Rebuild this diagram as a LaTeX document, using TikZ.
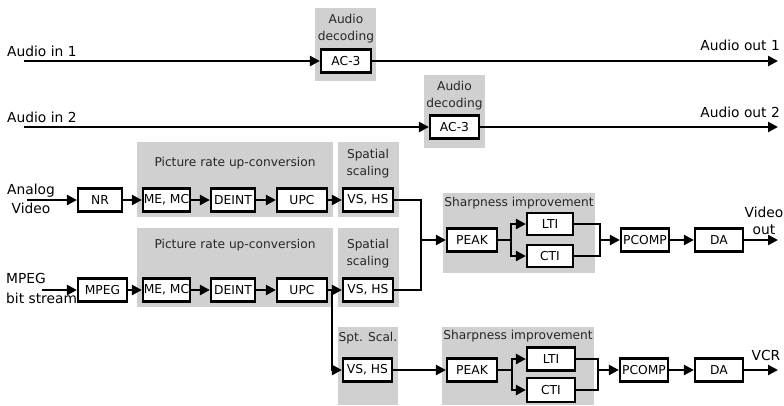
\documentclass[tikz,border=0pt]{standalone}
\usepackage{fontspec}
\setmainfont{DejaVu Sans}
\usetikzlibrary{arrows.meta}
\definecolor{panel}{RGB}{208,208,208}
\tikzset{
 blk/.style={draw=black, line width=2.2pt, fill=white, inner sep=0pt, minimum height=23pt, font=\fontsize{12.3}{14}\selectfont},
 wire/.style={line width=2.4pt},
 arr/.style={wire, -{Triangle[length=10pt,width=10pt]}},
 grp/.style={fill=panel},
 glab/.style={font=\fontsize{12.2}{17}\selectfont, inner sep=0pt, align=center, text=black!85},
 mlab/.style={font=\fontsize{13.8}{19}\selectfont, inner sep=0pt},
}
\begin{document}
\begin{tikzpicture}[x=1pt,y=-1pt]
\useasboundingbox (0,0) rectangle (784,405);
% ---------- gray panels ----------
\fill[grp] (315,8) rectangle (376,81);
\fill[grp] (424,75) rectangle (485,148);
\fill[grp] (137,142) rectangle (333,217);
\fill[grp] (338,142) rectangle (399,217);
\fill[grp] (137,228) rectangle (333,307);
\fill[grp] (338,228) rectangle (399,307);
\fill[grp] (443,193) rectangle (595,273);
\fill[grp] (338,327) rectangle (398,405);
\fill[grp] (442,327) rectangle (594,405);
% ---------- audio ----------
\node[glab] (ad1lab) at (346,28.5) {Audio\\decoding};
\node[blk, minimum width=50pt] (ac1) at (346,61) {AC-3};
\node[mlab, anchor=west] (ain1) at (7,51) {Audio in 1};
\node[mlab, anchor=east] (aout1) at (780,45) {Audio out 1};
\coordinate (ain1s) at (24,61);
\coordinate (aout1e) at (778,61);
\draw[arr] (ain1s) -- (ac1);
\draw[arr] (ac1) -- (aout1e);

\node[glab] (ad2lab) at (454.5,95.5) {Audio\\decoding};
\node[blk, minimum width=49pt] (ac2) at (454.5,127) {AC-3};
\node[mlab, anchor=west] (ain2) at (7,117) {Audio in 2};
\node[mlab, anchor=east] (aout2) at (780,112) {Audio out 2};
\coordinate (ain2s) at (24,127);
\coordinate (aout2e) at (778,127);
\draw[arr] (ain2s) -- (ac2);
\draw[arr] (ac2) -- (aout2e);
% ---------- video row 1 ----------
\node[glab] (pru1) at (235,163) {Picture rate up-conversion};
\node[glab] (ss1) at (368,163.5) {Spatial\\scaling};
\node[blk, minimum width=44pt] (nr) at (100,200) {NR};
\node[blk, minimum width=47pt] (me1) at (166.5,200) {ME, MC};
\node[blk, minimum width=44pt] (de1) at (233,200) {DEINT};
\node[blk, minimum width=50pt] (up1) at (302,200) {UPC};
\node[blk, minimum width=50pt] (vs1) at (368,200) {VS, HS};
\node[mlab, align=center] (analog) at (31,198.5) {Analog\\Video};
\coordinate (ans) at (27,200);
\draw[arr] (ans) -- (nr);
\draw[arr] (nr) -- (me1);
\draw[arr] (me1) -- (de1);
\draw[arr] (de1) -- (up1);
\draw[arr] (up1) -- (vs1);
% ---------- video row 2 ----------
\node[glab] (pru2) at (235,245) {Picture rate up-conversion};
\node[glab] (ss2) at (368,253.5) {Spatial\\scaling};
\node[blk, minimum width=49pt] (mpeg) at (102.5,290) {MPEG};
\node[blk, minimum width=47pt] (me2) at (166.5,290) {ME, MC};
\node[blk, minimum width=44pt] (de2) at (233,290) {DEINT};
\node[blk, minimum width=50pt] (up2) at (302,290) {UPC};
\node[blk, minimum width=50pt] (vs2) at (368,290) {VS, HS};
\node[mlab, align=left, anchor=west, font=\fontsize{13.8}{20}\selectfont] (mpl) at (6,288) {MPEG\\bit stream};
\coordinate (mps) at (42,290);
\draw[arr] (mps) -- (mpeg);
\draw[arr] (mpeg) -- (me2);
\draw[arr] (me2) -- (de2);
\draw[arr] (de2) -- (up2);
\draw[arr] (up2) -- (vs2);
% ---------- branch to VCR path ----------
\node[glab] (spt) at (368,338) {Spt. Scal.};
\node[blk, minimum width=49pt] (vs3) at (367.5,370) {VS, HS};
\coordinate (br) at (332,290);
\draw[arr] (br) |- (vs3);
% ---------- merge into sharpness 1 ----------
\coordinate (mg) at (421,240);
\draw[wire] (vs1) -| (mg);
\draw[wire] (vs2) -| (mg);
\node[glab] (sh1) at (519,203) {Sharpness improvement};
\node[blk, minimum width=50pt] (pk1) at (472,240) {PEAK};
\node[blk, minimum width=46pt, minimum height=22pt] (lti1) at (550,224) {LTI};
\node[blk, minimum width=46pt, minimum height=22pt] (cti1) at (550,256) {CTI};
\draw[arr] (mg) -- (pk1);
\coordinate (sp1) at (511,240);
\draw[wire] (pk1) -- (sp1);
\draw[arr] (sp1) |- (lti1);
\draw[arr] (sp1) |- (cti1);
\coordinate (jn1) at (600,240);
\draw[wire] (lti1) -| (jn1);
\draw[wire] (cti1) -| (jn1);
\node[blk, minimum width=48pt] (pc1) at (645,240) {PCOMP};
\node[blk, minimum width=48pt] (da1) at (719,240) {DA};
\draw[arr] (jn1) -- (pc1);
\draw[arr] (pc1) -- (da1);
\coordinate (vo) at (778,240);
\draw[arr] (da1) -- (vo);
\node[mlab, align=center, font=\fontsize{13.8}{17}\selectfont] (vol) at (764,220.5) {Video\\out};
% ---------- sharpness 2 ----------
\node[glab] (sh2) at (518,336) {Sharpness improvement};
\node[blk, minimum width=50pt] (pk2) at (472,370) {PEAK};
\node[blk, minimum width=48pt, minimum height=23pt] (lti2) at (551,359) {LTI};
\node[blk, minimum width=48pt, minimum height=24pt] (cti2) at (551,390) {CTI};
\draw[arr] (vs3) -- (pk2);
\coordinate (sp2) at (512,370);
\draw[wire] (pk2) -- (sp2);
\draw[arr] (sp2) |- (lti2);
\draw[arr] (sp2) |- (cti2);
\coordinate (jn2) at (598,370);
\draw[wire] (lti2) -| (jn2);
\draw[wire] (cti2) -| (jn2);
\node[blk, minimum width=48pt] (pc2) at (644,370) {PCOMP};
\node[blk, minimum width=48pt] (da2) at (719,370) {DA};
\draw[arr] (jn2) -- (pc2);
\draw[arr] (pc2) -- (da2);
\coordinate (vcre) at (778,370);
\draw[arr] (da2) -- (vcre);
\node[mlab] (vcr) at (766,355) {VCR};
\end{tikzpicture}
\end{document}
